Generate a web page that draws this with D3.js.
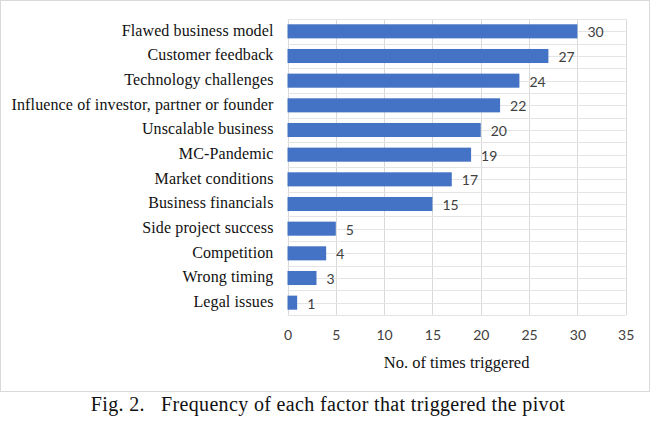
<!DOCTYPE html>
<html><head><meta charset="utf-8">
<script src="https://cdn.jsdelivr.net/npm/d3@7"></script>
<style>body{margin:0;background:#fff}svg{display:block}</style>
</head><body>
<script>
const categories = ["Flawed business model","Customer feedback","Technology challenges","Influence of investor, partner or founder","Unscalable business","MC-Pandemic","Market conditions","Business financials","Side project success","Competition","Wrong timing","Legal issues"];
const values = [30,27,24,22,20,19,17,15,5,4,3,1];
const xTicks = [0,5,10,15,20,25,30,35];
const xTitle = "No. of times triggered";
const caption = "Fig. 2.\u00a0\u00a0\u00a0Frequency of each factor that triggered the pivot";

const W = 651, H = 427;
const svg = d3.select("body").append("svg").attr("width", W).attr("height", H);
svg.append("rect").attr("x",0.5).attr("y",0.5).attr("width",649).attr("height",391)
  .attr("fill","#fff").attr("stroke","#d9d9d9").attr("stroke-width",1);

const pL = 287.5, pR = 625.7, pT = 19, pB = 315;
const x = d3.scaleLinear().domain([0,35]).range([pL,pR]);
const y = d3.scaleBand().domain(categories).range([pT,pB]).paddingInner(0.43).paddingOuter(0.215);
const yb = d3.scaleBand().domain(categories).range([pT,pB]);

const g = svg.append("g");
// vertical gridlines
g.selectAll(".vg").data(xTicks).join("line")
  .attr("x1", d=>Math.round(x(d))+0.5).attr("x2", d=>Math.round(x(d))+0.5)
  .attr("y1", pT).attr("y2", pB).attr("stroke","#d9d9d9");
// horizontal gridlines at half-band steps
const hl = [];
categories.forEach(c=>{ hl.push(yb(c)); hl.push(yb(c)+yb.bandwidth()/2); });
hl.push(pB);
g.selectAll(".hg").data(hl).join("line")
  .attr("x1", pL).attr("x2", pR)
  .attr("y1", d=>Math.round(d)+0.5).attr("y2", d=>Math.round(d)+0.5).attr("stroke","#e4e4e4");

// bars
g.selectAll(".bar").data(values).join("rect")
  .attr("x", x(0)).attr("y", (d,i)=>y(categories[i]))
  .attr("width", d=>x(d)-x(0)).attr("height", y.bandwidth())
  .attr("fill","#4472c4");

// value labels
g.selectAll(".vl").data(values).join("text")
  .attr("x", d=>x(d)+10).attr("y", (d,i)=>y(categories[i])+y.bandwidth()/2)
  .attr("dy","0.42em").attr("font-family","Lato, 'Open Sans', sans-serif").attr("font-size",14)
  .attr("fill","#404040").text(d=>d);

// category labels
const yAxis = d3.axisLeft(yb).tickSize(0).tickPadding(14);
const ya = svg.append("g").attr("transform",`translate(${pL},0)`).call(yAxis);
ya.select(".domain").remove();
ya.selectAll("text").attr("font-family","'Liberation Serif', 'Times New Roman', serif")
  .attr("font-size",16).attr("letter-spacing","0.12px").attr("fill","#111").attr("dy","0.28em");

// x axis
const xAxis = d3.axisBottom(x).tickValues(xTicks).tickSize(0).tickPadding(15);
const xa = svg.append("g").attr("transform",`translate(0,${pB})`).call(xAxis);
xa.select(".domain").remove();
xa.selectAll("text").attr("font-family","Lato, 'Open Sans', sans-serif").attr("font-size",14).attr("fill","#404040");

svg.append("text").attr("x",(pL+pR)/2).attr("y",367.5).attr("text-anchor","middle")
  .attr("font-family","'Liberation Serif', 'Times New Roman', serif").attr("font-size",16.5).attr("fill","#111")
  .text(xTitle);

svg.append("text").attr("x",328).attr("y",410.7).attr("text-anchor","middle")
  .attr("font-family","'Liberation Serif', 'Times New Roman', serif").attr("font-size",20)
  .attr("letter-spacing","0.35px").attr("fill","#111")
  .text(caption);
</script>
</body></html>
